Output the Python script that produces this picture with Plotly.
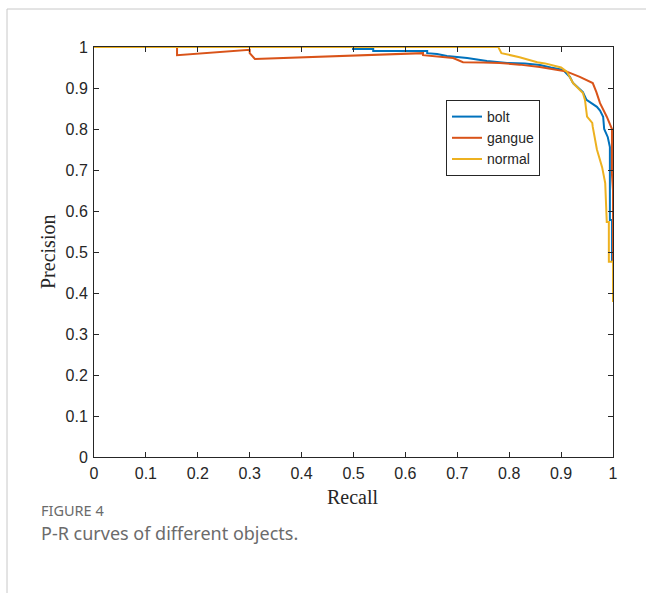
import plotly.graph_objects as go

# ---- data ----
bolt_recall = [0, 0.499, 0.499, 0.538, 0.538, 0.642, 0.642, 0.661, 0.68, 0.699, 0.719, 0.757,
               0.796, 0.83, 0.859, 0.88, 0.904, 0.917, 0.923, 0.942, 0.949, 0.969, 0.975,
               0.981, 0.983, 0.990, 0.994, 0.994, 0.998, 0.998]
bolt_precision = [1, 1, 0.995, 0.995, 0.99, 0.99, 0.985, 0.983, 0.978, 0.976, 0.973, 0.966,
                  0.961, 0.96, 0.956, 0.95, 0.944, 0.927, 0.912, 0.89, 0.871, 0.854, 0.845,
                  0.83, 0.80, 0.78, 0.756, 0.578, 0.578, 0.476]

gangue_recall = [0, 0.160, 0.160, 0.300, 0.300, 0.310, 0.634, 0.634, 0.692, 0.711, 0.75, 0.782,
                 0.82, 0.859, 0.911, 0.936, 0.961, 0.968, 0.975, 0.988, 0.998, 0.998, 1.0, 1.0]
gangue_precision = [1, 1, 0.98, 0.993, 0.985, 0.971, 0.985, 0.98, 0.973, 0.963, 0.962, 0.961,
                    0.957, 0.951, 0.94, 0.927, 0.912, 0.89, 0.863, 0.83, 0.80, 0.69, 0.65, 0.38]

normal_recall = [0, 0.779, 0.785, 0.82, 0.854, 0.869, 0.90, 0.911, 0.923, 0.942, 0.946, 0.950,
                 0.960, 0.961, 0.969, 0.979, 0.985, 0.988, 0.992, 0.992, 1.0, 1.0]
normal_precision = [1, 1, 0.985, 0.975, 0.963, 0.96, 0.95, 0.94, 0.912, 0.888, 0.871, 0.83,
                    0.815, 0.805, 0.75, 0.707, 0.668, 0.573, 0.573, 0.476, 0.476, 0.378]

series_names = ["bolt", "gangue", "normal"]
series_colors = ["#0072BD", "#D95319", "#EDB120"]

x_ticks = [0, 0.1, 0.2, 0.3, 0.4, 0.5, 0.6, 0.7, 0.8, 0.9, 1]
x_tick_labels = ["0", "0.1", "0.2", "0.3", "0.4", "0.5", "0.6", "0.7", "0.8", "0.9", "1"]
y_ticks = [0, 0.1, 0.2, 0.3, 0.4, 0.5, 0.6, 0.7, 0.8, 0.9, 1]
y_tick_labels = ["0", "0.1", "0.2", "0.3", "0.4", "0.5", "0.6", "0.7", "0.8", "0.9", "1"]

x_title = "Recall"
y_title = "Precision"
fig_label = "FIGURE 4"
caption = "P-R curves of different objects."

# ---- figure ----
W, H = 646, 593
L, R, T, B = 94, 613, 47, 457
pw, ph = R - L, B - T


def px(x):
    return (x - L) / pw


def py(y):
    return (B - y) / ph


fig = go.Figure()
for xs, ys, name, col in zip([bolt_recall, gangue_recall, normal_recall],
                             [bolt_precision, gangue_precision, normal_precision],
                             series_names, series_colors):
    fig.add_trace(go.Scatter(x=xs, y=ys, mode="lines", name=name,
                             line=dict(color=col, width=2)))

axis_common = dict(
    showline=True, linecolor="#262626", linewidth=1, mirror="ticks",
    ticks="inside", ticklen=5, tickcolor="#262626", tickwidth=1,
    showgrid=False, zeroline=False,
    tickfont=dict(family="Liberation Sans, Arial", size=16, color="#262626"),
)

fig.update_xaxes(range=[0, 1], tickvals=x_ticks, ticktext=x_tick_labels,
                 ticklabelstandoff=2, **axis_common)
fig.update_yaxes(range=[0, 1], tickvals=y_ticks, ticktext=y_tick_labels,
                 ticklabelstandoff=2, **axis_common)

fig.update_layout(
    width=W, height=H,
    margin=dict(l=L, r=W - R, t=T, b=H - B, pad=0),
    paper_bgcolor="white", plot_bgcolor="white",
    showlegend=True,
    legend=dict(x=px(446), y=py(100), xanchor="left", yanchor="top",
                bgcolor="white", bordercolor="#262626", borderwidth=1,
                font=dict(family="Liberation Sans, Arial", size=14, color="#262626"),
                tracegroupgap=0),
    annotations=[
        dict(text=y_title, xref="paper", yref="paper", x=px(48), y=py(252),
             xanchor="center", yanchor="middle", textangle=-90, showarrow=False,
             font=dict(family="Liberation Serif, Times New Roman", size=20, color="#262626")),
        dict(text=x_title, xref="paper", yref="paper", x=px(353), y=py(497),
             xanchor="center", yanchor="middle", showarrow=False,
             font=dict(family="Liberation Serif, Times New Roman", size=20, color="#262626")),
        dict(text=fig_label, xref="paper", yref="paper", x=px(39), y=py(510),
             xanchor="left", yanchor="middle", showarrow=False,
             font=dict(family="Noto Sans", size=14.5, color="#6b6b6b")),
        dict(text=caption, xref="paper", yref="paper", x=px(39), y=py(533),
             xanchor="left", yanchor="middle", showarrow=False,
             font=dict(family="Noto Sans", size=18, color="#6b6b6b")),
    ],
    shapes=[
        dict(type="line", xref="paper", yref="paper", x0=px(7), x1=px(W + 5),
             y0=py(9), y1=py(9), line=dict(color="#c8c8c8", width=1)),
        dict(type="line", xref="paper", yref="paper", x0=px(7), x1=px(7),
             y0=py(9), y1=py(H + 5), line=dict(color="#c8c8c8", width=1)),
    ],
)

fig.write_html("out.html")
